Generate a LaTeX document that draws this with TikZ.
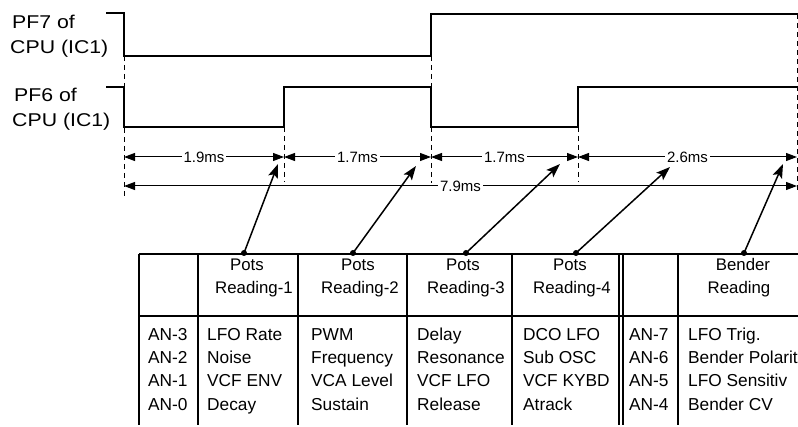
\documentclass[tikz,border=0pt]{standalone}
\usepackage{fontspec}
\setmainfont{Liberation Sans}
\newfontfamily\widefont{Liberation Sans}[FakeStretch=1.15]
\usetikzlibrary{arrows.meta}
\begin{document}
\begin{tikzpicture}[x=1pt,y=-1pt,
 sig/.style={line width=1.8pt, line join=miter},
 tickline/.style={line width=0.9pt, dash pattern=on 5pt off 4pt},
 dimline/.style={line width=1pt, {Triangle[length=11pt,width=8pt]}-{Triangle[length=11pt,width=8pt]}},
 dimlbl/.style={fill=white, inner sep=2pt, font=\fontsize{15}{17}\selectfont},
 ptr/.style={line width=1.5pt, -{Stealth[length=14pt,width=10pt,inset=3pt]}},
 dotmark/.style={circle, fill=black, inner sep=0pt, minimum size=6pt},
 gridline/.style={line width=1.3pt},
 siglabel/.style={anchor=base west, inner sep=0pt, font=\widefont\fontsize{18.5}{20}\selectfont},
 cell/.style={anchor=base west, inner sep=0pt, font=\fontsize{17.3}{19}\selectfont},
 head/.style={anchor=base, inner sep=0pt, font=\fontsize{16.8}{18}\selectfont}
]
\useasboundingbox (0,0) rectangle (798,427);

% signal labels
\node[siglabel] (l7a) at (12,28.5) {PF7 of};
\node[siglabel] (l7b) at (10,53.3) {CPU (IC1)};
\node[siglabel] (l6a) at (14,101.7) {PF6 of};
\node[siglabel] (l6b) at (12,126.7) {CPU (IC1)};

% waveforms
\draw[sig] (106,13) -- (124,13) -- (124,56) -- (431,56) -- (431,14) -- (798,14);
\draw[sig] (106,87) -- (124,87) -- (124,127) -- (284,127) -- (284,87) -- (431,87) -- (431,127) -- (578,127) -- (578,87) -- (798,87);

% dashed timing marks
\draw[tickline] (124,56) -- (124,198);
\draw[tickline] (284,127) -- (284,182);
\draw[tickline] (431,56) -- (431,87);
\draw[tickline] (431,127) -- (431,183);
\draw[tickline] (578,127) -- (578,182);
\draw[tickline] (797,14) -- (797,192);

% dimension lines
\coordinate (d0) at (124,157);
\coordinate (d1) at (284,157);
\coordinate (d2) at (431,157);
\coordinate (d3) at (578,157);
\coordinate (d4) at (797,157);
\coordinate (e0) at (124,186);
\coordinate (e4) at (797,186);
\draw[dimline] (d0) -- node[dimlbl] (m1) {1.9ms} (d1);
\draw[dimline] (d1) -- node[dimlbl] (m2) {1.7ms} (d2);
\draw[dimline] (d2) -- node[dimlbl] (m3) {1.7ms} (d3);
\draw[dimline] (d3) -- node[dimlbl] (m4) {2.6ms} (d4);
\draw[dimline] (e0) -- node[dimlbl] (m5) {7.9ms} (e4);

% table grid
\draw[gridline] (139,254) -- (798,254);
\draw[gridline] (139,316) -- (798,316);
\foreach \cx in {139,198,298,407,512,619,623,678}
  \draw[gridline] (\cx,254) -- (\cx,425);

% header
\node[head] (h1a) at (247,271) {Pots};
\node[head] (h1b) at (254,294) {Reading-1};
\node[head] (h2a) at (358,271) {Pots};
\node[head] (h2b) at (360,294) {Reading-2};
\node[head] (h3a) at (463,271) {Pots};
\node[head] (h3b) at (466,294) {Reading-3};
\node[head] (h4a) at (570,271) {Pots};
\node[head] (h4b) at (572,294) {Reading-4};
\node[head] (h5a) at (743,271) {Bender};
\node[head] (h5b) at (739,294) {Reading};

% body
\foreach \yy/\a/\b/\c/\d/\e/\f/\g in {
  341/AN-3/LFO Rate/PWM/Delay/DCO LFO/AN-7/LFO Trig.,
  364/AN-2/Noise/Frequency/Resonance/Sub OSC/AN-6/Bender Polarit,
  387/AN-1/VCF ENV/VCA Level/VCF LFO/VCF KYBD/AN-5/LFO Sensitiv,
  410/AN-0/Decay/Sustain/Release/Atrack/AN-4/Bender CV}{
  \node[cell] at (148,\yy) {\a};
  \node[cell] at (207,\yy) {\b};
  \node[cell] at (311,\yy) {\c};
  \node[cell] at (417,\yy) {\d};
  \node[cell] at (523,\yy) {\e};
  \node[cell] at (629,\yy) {\f};
  \node[cell] at (688,\yy) {\g};
}

% pointers
\node[dotmark] (p1) at (244,253) {};
\node[dotmark] (p2) at (353,253) {};
\node[dotmark] (p3) at (466,253) {};
\node[dotmark] (p4) at (576,253) {};
\node[dotmark] (p5) at (744,253) {};
\coordinate (q1) at (278,164);
\coordinate (q2) at (416,166);
\coordinate (q3) at (560,164);
\coordinate (q4) at (670,167);
\coordinate (q5) at (783,164);
\draw[ptr] (p1.center) -- (q1);
\draw[ptr] (p2.center) -- (q2);
\draw[ptr] (p3.center) -- (q3);
\draw[ptr] (p4.center) -- (q4);
\draw[ptr] (p5.center) -- (q5);
\end{tikzpicture}
\end{document}
